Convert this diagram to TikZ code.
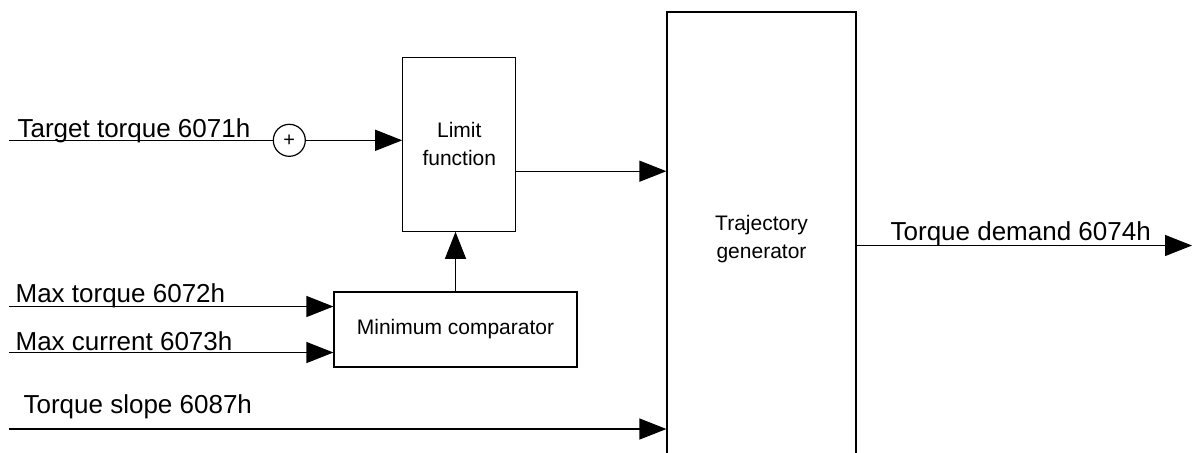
\documentclass[tikz,border=0pt]{standalone}
\usepackage{fontspec}
\setmainfont{Liberation Sans}
\usetikzlibrary{arrows.meta,positioning}

\begin{document}
\begin{tikzpicture}[x=0.5pt, y=-0.5pt, line width=0.6pt, blk/.style={draw,align=center,inner sep=0pt,font=\fontsize{10.5pt}{14pt}\selectfont}, sig/.style={-{Triangle[length=13.5pt,width=10.5pt]}}, lbl/.style={anchor=base west,inner sep=0pt,font=\fontsize{13pt}{15pt}\selectfont}, sumj/.style={draw,circle,minimum size=16pt,inner sep=0pt,font=\fontsize{10pt}{10pt}\selectfont}]
\useasboundingbox (0,0) rectangle (1192,452);
\node[blk, minimum width=56.5pt, minimum height=87pt] (limit) at (459.3,144.2) {Limit\\function};
\node[blk, minimum width=121.5pt, minimum height=37.5pt] (mincmp) at (455.5,329.5) {Minimum comparator};
\node[blk, minimum width=94.5pt, minimum height=227pt] (traj) at (761.5,239) {Trajectory\\generator};
\node[sumj] (sum) at (289.3,140.3) {+};
\coordinate (in1) at (9,140.3);
\coordinate (in2) at (9,306.5);
\coordinate (in3) at (9,352.5);
\coordinate (in4) at (9,429);
\coordinate (out) at (1192,245.5);
\node[lbl] (tgt) at (17,137) {Target torque 6071h};
\node[lbl] (maxt) at (15,302) {Max torque 6072h};
\node[lbl] (maxc) at (15,350) {Max current 6073h};
\node[lbl] (slope) at (23,413) {Torque slope 6087h};
\node[lbl] (dem) at (890,240) {Torque demand 6074h};
\draw (in1) -- (sum);
\draw[sig] (sum) -- (sum -| limit.west);
\draw[sig] ([yshift=-13.5pt]limit.east) -- ([yshift=-13.5pt]limit.east -| traj.west);
\draw[sig] (mincmp.north) -- (mincmp.north |- limit.south);
\draw[sig] (in2) -- (in2 -| mincmp.west);
\draw[sig] (in3) -- (in3 -| mincmp.west);
\draw[sig] (in4) -- (in4 -| traj.west);
\draw[sig] (traj.east |- out) -- (out);
\end{tikzpicture}
\end{document}
